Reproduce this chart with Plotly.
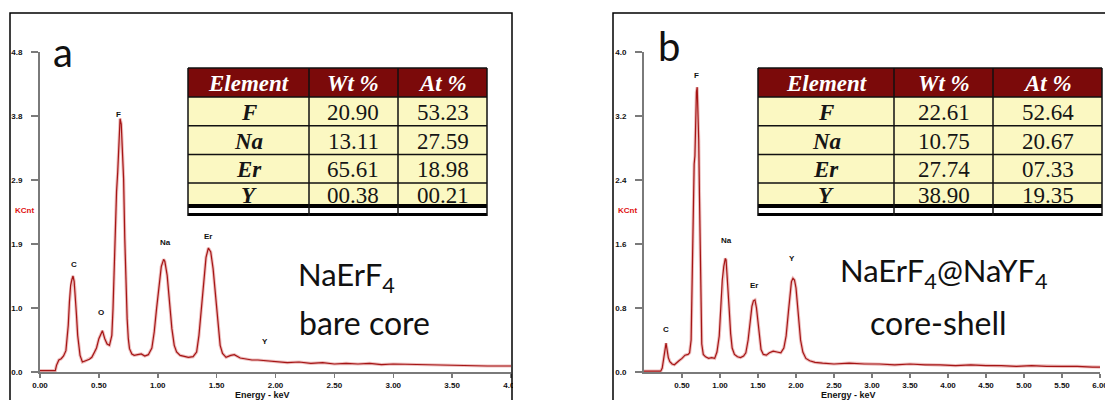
import plotly.graph_objects as go

W, H = 1105, 400

# ---------------- data ----------------
energy_a = [0.00, 0.13, 0.14, 0.16, 0.18, 0.20, 0.22, 0.24, 0.25, 0.26, 0.27, 0.28, 0.29, 0.30, 0.31, 0.32,
            0.34, 0.36, 0.38, 0.40, 0.42, 0.44, 0.46, 0.48, 0.50, 0.52, 0.53, 0.55, 0.57, 0.59, 0.61, 0.62,
            0.63, 0.64, 0.65, 0.66, 0.67, 0.68, 0.69, 0.70, 0.71, 0.72, 0.73, 0.74, 0.75, 0.76, 0.78, 0.80,
            0.83, 0.86, 0.89, 0.92, 0.95, 0.97, 0.99, 1.01, 1.03, 1.05, 1.06, 1.08, 1.10, 1.12, 1.14, 1.16,
            1.19, 1.22, 1.26, 1.30, 1.33, 1.35, 1.37, 1.39, 1.41, 1.43, 1.45, 1.47, 1.49, 1.51, 1.53, 1.55,
            1.58, 1.62, 1.65, 1.70, 1.75, 1.80, 1.85, 1.90, 1.95, 2.00, 2.10, 2.20, 2.30, 2.40, 2.50, 2.60,
            2.70, 2.80, 2.90, 3.00, 3.20, 3.40, 3.60, 3.80, 4.00]
counts_a = [0.02, 0.02, 0.10, 0.18, 0.20, 0.24, 0.32, 0.70, 1.05, 1.30, 1.38, 1.44, 1.36, 1.15, 0.85, 0.55,
            0.25, 0.15, 0.16, 0.18, 0.19, 0.22, 0.28, 0.36, 0.50, 0.60, 0.62, 0.50, 0.42, 0.40, 0.55, 0.95,
            1.60, 2.30, 2.70, 3.00, 3.55, 3.80, 3.72, 3.40, 2.90, 2.00, 1.30, 0.80, 0.50, 0.35, 0.27, 0.25,
            0.26, 0.27, 0.24, 0.26, 0.36, 0.60, 0.95, 1.30, 1.58, 1.69, 1.66, 1.45, 1.05, 0.65, 0.40, 0.30,
            0.25, 0.24, 0.22, 0.23, 0.30, 0.55, 0.95, 1.40, 1.72, 1.86, 1.80, 1.55, 1.15, 0.70, 0.40, 0.28,
            0.22, 0.25, 0.26, 0.21, 0.19, 0.18, 0.18, 0.17, 0.17, 0.16, 0.14, 0.15, 0.13, 0.14, 0.12, 0.13,
            0.12, 0.13, 0.11, 0.12, 0.11, 0.10, 0.10, 0.09, 0.09]

energy_b = [0.00, 0.22, 0.24, 0.26, 0.28, 0.29, 0.30, 0.32, 0.34, 0.37, 0.40, 0.43, 0.46, 0.50, 0.54, 0.58,
            0.60, 0.62, 0.63, 0.64, 0.65, 0.66, 0.67, 0.68, 0.69, 0.70, 0.71, 0.72, 0.73, 0.74, 0.75, 0.76,
            0.78, 0.81, 0.85, 0.89, 0.93, 0.96, 0.99, 1.01, 1.03, 1.05, 1.07, 1.08, 1.10, 1.12, 1.14, 1.16,
            1.19, 1.23, 1.27, 1.31, 1.34, 1.37, 1.40, 1.42, 1.44, 1.46, 1.48, 1.50, 1.52, 1.54, 1.57, 1.61,
            1.65, 1.70, 1.75, 1.80, 1.84, 1.87, 1.90, 1.92, 1.94, 1.96, 1.98, 2.00, 2.02, 2.04, 2.06, 2.09,
            2.13, 2.18, 2.25, 2.35, 2.50, 2.70, 2.90, 3.10, 3.30, 3.50, 3.70, 3.90, 4.10, 4.30, 4.50, 4.70,
            4.90, 5.10, 5.30, 5.50, 5.70, 5.90, 6.00]
counts_b = [0.01, 0.01, 0.05, 0.20, 0.34, 0.36, 0.30, 0.18, 0.13, 0.10, 0.09, 0.11, 0.14, 0.17, 0.21, 0.22,
            0.24, 0.40, 0.90, 1.60, 2.30, 2.60, 2.70, 3.20, 3.50, 3.56, 3.30, 2.90, 2.20, 1.30, 0.60, 0.35,
            0.22, 0.19, 0.17, 0.18, 0.17, 0.25, 0.45, 0.80, 1.15, 1.32, 1.42, 1.40, 1.15, 0.80, 0.48, 0.30,
            0.22, 0.19, 0.18, 0.20, 0.24, 0.40, 0.65, 0.82, 0.89, 0.90, 0.80, 0.60, 0.40, 0.28, 0.22, 0.21,
            0.24, 0.26, 0.25, 0.24, 0.30, 0.45, 0.75, 1.00, 1.13, 1.17, 1.15, 1.05, 0.85, 0.60, 0.40, 0.25,
            0.17, 0.14, 0.12, 0.11, 0.10, 0.11, 0.10, 0.10, 0.09, 0.10, 0.09, 0.09, 0.08, 0.09, 0.08, 0.08,
            0.07, 0.08, 0.07, 0.07, 0.07, 0.06, 0.06]

peak_names_a = ["C", "O", "F", "Na", "Er", "Y"]
peak_x_a = [0.29, 0.52, 0.67, 1.07, 1.43, 1.91]
peak_y_a = [1.52, 0.80, 3.76, 1.84, 1.94, 0.36]

peak_names_b = ["C", "F", "Na", "Er", "Y"]
peak_x_b = [0.29, 0.69, 1.09, 1.45, 1.95]
peak_y_b = [0.45, 3.62, 1.56, 1.00, 1.34]

xticks_a = [0.0, 0.5, 1.0, 1.5, 2.0, 2.5, 3.0, 3.5, 4.0]
xticks_b = [0.5, 1.0, 1.5, 2.0, 2.5, 3.0, 3.5, 4.0, 4.5, 5.0, 5.5, 6.0]
yticks_a = [0.0, 0.96, 1.92, 2.88, 3.84, 4.8]
ytext_a = ["0.0", "1.0", "1.9", "2.9", "3.8", "4.8"]
yticks_b = [0.0, 0.8, 1.6, 2.4, 3.2, 4.0]
ytext_b = ["0.0", "0.8", "1.6", "2.4", "3.2", "4.0"]

table_header = ["Element", "Wt %", "At %"]
elements = ["F", "Na", "Er", "Y"]
wt_a = ["20.90", "13.11", "65.61", "00.38"]
at_a = ["53.23", "27.59", "18.98", "00.21"]
wt_b = ["22.61", "10.75", "27.74", "38.90"]
at_b = ["52.64", "20.67", "07.33", "19.35"]

# ---------------- helpers ----------------
def px(x):
    return x / W

def py(y):
    return 1 - y / H

LINE = "#A51515"
HALO = "rgba(215,110,110,0.45)"
AX = "#7a7a7a"
tickfont = dict(family="Liberation Sans", size=8, color="#111", weight="bold")

fig = go.Figure()

for xs, ys, xa, ya in [(energy_a, counts_a, "x", "y"), (energy_b, counts_b, "x2", "y2")]:
    fig.add_trace(go.Scatter(x=xs, y=ys, mode="lines", line=dict(color=HALO, width=3.2),
                             xaxis=xa, yaxis=ya, showlegend=False, hoverinfo="skip"))
    fig.add_trace(go.Scatter(x=xs, y=ys, mode="lines", line=dict(color=LINE, width=1.2),
                             xaxis=xa, yaxis=ya, showlegend=False, hoverinfo="skip"))

axis_common = dict(showgrid=False, zeroline=False, showline=True, linecolor=AX, linewidth=2,
                   ticks="outside", tickcolor=AX, tickwidth=1.5, tickfont=tickfont, automargin=False)

fig.update_layout(
    width=W, height=H, margin=dict(l=0, r=0, t=0, b=0, autoexpand=False),
    paper_bgcolor="white", plot_bgcolor="rgba(0,0,0,0)",
    xaxis=dict(domain=[px(40), px(511)], range=[0, 4.0], anchor="y", ticklabeloverflow="allow",
               tickvals=xticks_a, ticktext=["%.2f" % v for v in xticks_a], ticklen=4, **axis_common),
    yaxis=dict(domain=[py(372), py(52)], range=[0, 4.8], anchor="x",
               tickvals=yticks_a, ticktext=ytext_a, ticklen=7, ticklabelstandoff=7, **axis_common),
    xaxis2=dict(domain=[px(644), px(1100)], range=[0, 6.0], anchor="y2", ticklabeloverflow="allow",
                tickvals=xticks_b, ticktext=["%.2f" % v for v in xticks_b], ticklen=4, **axis_common),
    yaxis2=dict(domain=[py(372), py(52)], range=[0, 4.0], anchor="x2",
                tickvals=yticks_b, ticktext=ytext_b, ticklen=7, ticklabelstandoff=7, **axis_common),
)

# peak labels
for n, x, y in zip(peak_names_a, peak_x_a, peak_y_a):
    fig.add_annotation(x=x, y=y, xref="x", yref="y", text=n, showarrow=False, yanchor="bottom",
                       font=dict(family="Liberation Sans", size=8, color="#111", weight="bold"))
for n, x, y in zip(peak_names_b, peak_x_b, peak_y_b):
    fig.add_annotation(x=x, y=y, xref="x2", yref="y2", text=n, showarrow=False, yanchor="bottom",
                       font=dict(family="Liberation Sans", size=8, color="#111", weight="bold"))

def ann(x, y, text, size, family="Lato", color="#111", weight="normal", style="normal", xanchor="center"):
    fig.add_annotation(x=px(x), y=py(y), xref="paper", yref="paper", text=text, showarrow=False,
                       xanchor=xanchor, yanchor="middle",
                       font=dict(family=family, size=size, color=color, weight=weight, style=style))

# axis titles
ann(262, 395, "Energy - keV", 9, family="Liberation Sans", weight="bold")
ann(848, 395, "Energy - keV", 9, family="Liberation Sans", weight="bold")
ann(24, 210, "KCnt", 8, family="Liberation Sans", color="#e01010", weight="bold")
ann(627, 210, "KCnt", 8, family="Liberation Sans", color="#e01010", weight="bold")

# panel letters and captions
ann(63, 52, "a", 40)
ann(669, 46, "b", 40)
ann(346, 276, "NaErF<sub>4</sub>", 31)
ann(364, 322, "bare core", 32)
ann(944, 272, "NaErF<sub>4</sub>@NaYF<sub>4</sub>", 31)
ann(938, 322, "core-shell", 32)

shapes = []
# panel frames
shapes.append(dict(type="rect", xref="paper", yref="paper", x0=px(10), x1=px(512), y0=py(405), y1=py(13),
                   line=dict(color="black", width=1.5), layer="above"))
shapes.append(dict(type="rect", xref="paper", yref="paper", x0=px(613), x1=px(1110), y0=py(405), y1=py(13),
                   line=dict(color="black", width=1.5), layer="above"))
# hide tick label overflow beyond frame a
shapes.append(dict(type="rect", xref="paper", yref="paper", x0=px(513), x1=px(540), y0=py(400), y1=py(360),
                   line=dict(width=0), fillcolor="white", layer="above"))


# ---------------- tables (shapes + text) ----------------
def draw_table(col_edges, wt, at):
    top, head_h, row_h, last_bottom = 68, 29, 28.7, 204
    row_edges = [top, top + head_h] + [top + head_h + row_h * (i + 1) for i in range(3)] + [last_bottom]
    x0, x1 = col_edges[0], col_edges[-1]
    shapes.append(dict(type="rect", xref="paper", yref="paper", x0=px(x0), x1=px(x1),
                       y0=py(row_edges[1]), y1=py(top), fillcolor="#7b0a0a", line=dict(width=0), layer="above"))
    shapes.append(dict(type="rect", xref="paper", yref="paper", x0=px(x0), x1=px(x1),
                       y0=py(216), y1=py(row_edges[1]), fillcolor="#fbf8c2", line=dict(width=0), layer="above"))
    shapes.append(dict(type="rect", xref="paper", yref="paper", x0=px(x0), x1=px(x1),
                       y0=py(216), y1=py(208), fillcolor="white", line=dict(width=0), layer="above"))
    for yy in row_edges[1:-1]:
        shapes.append(dict(type="line", xref="paper", yref="paper", x0=px(x0), x1=px(x1),
                           y0=py(yy), y1=py(yy), line=dict(color="#111", width=1.5), layer="above"))
    shapes.append(dict(type="rect", xref="paper", yref="paper", x0=px(x0), x1=px(x1),
                       y0=py(208), y1=py(204), fillcolor="black", line=dict(width=0), layer="above"))
    shapes.append(dict(type="rect", xref="paper", yref="paper", x0=px(x0), x1=px(x1),
                       y0=py(216), y1=py(213), fillcolor="black", line=dict(width=0), layer="above"))
    for c in col_edges:
        shapes.append(dict(type="line", xref="paper", yref="paper", x0=px(c), x1=px(c),
                           y0=py(216), y1=py(top), line=dict(color="#111", width=1.5), layer="above"))
    shapes.append(dict(type="line", xref="paper", yref="paper", x0=px(x0), x1=px(x1),
                       y0=py(top), y1=py(top), line=dict(color="#111", width=1.5), layer="above"))
    for j, h in enumerate(table_header):
        cx = (col_edges[j] + col_edges[j + 1]) / 2
        ann(cx, (row_edges[0] + row_edges[1]) / 2 + 1, "<b><i>%s</i></b>" % h, 23,
            family="Liberation Serif", color="white")
    cols = [["<b><i>%s</i></b>" % e for e in elements], wt, at]
    for i in range(4):
        cy = (row_edges[i + 1] + row_edges[i + 2]) / 2 + 1
        if i == 3:
            cy = row_edges[4] + 12
        for j in range(3):
            cx = (col_edges[j] + col_edges[j + 1]) / 2
            ann(cx, cy, cols[j][i], 23, family="Liberation Serif", color="#151515")


draw_table([188, 309, 398, 487], wt_a, at_a)
draw_table([758, 894, 993, 1102], wt_b, at_b)

fig.update_layout(shapes=shapes)

fig.write_html("out.html", config={"displayModeBar": False, "staticPlot": True},
               post_script="document.body.style.margin='0px';document.body.style.overflow='hidden';")
